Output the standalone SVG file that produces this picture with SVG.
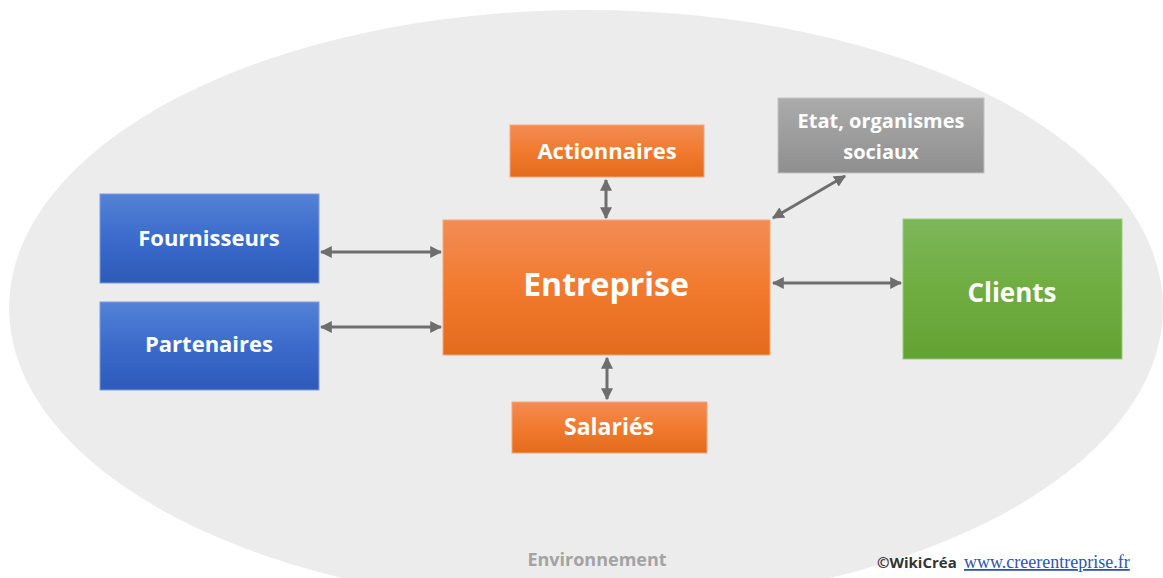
<svg xmlns="http://www.w3.org/2000/svg" width="1163" height="578" viewBox="0 0 1163 578">
<defs>
<linearGradient id="gBlue" x1="0" y1="0" x2="0" y2="1"><stop offset="0" stop-color="#5482d6"/><stop offset="0.5" stop-color="#3b6bcc"/><stop offset="1" stop-color="#2e5ab8"/></linearGradient>
<linearGradient id="gOrange" x1="0" y1="0" x2="0" y2="1"><stop offset="0" stop-color="#f28c55"/><stop offset="0.5" stop-color="#f27a2e"/><stop offset="1" stop-color="#e36b1c"/></linearGradient>
<linearGradient id="gGreen" x1="0" y1="0" x2="0" y2="1"><stop offset="0" stop-color="#7db65a"/><stop offset="0.5" stop-color="#6fad40"/><stop offset="1" stop-color="#62a232"/></linearGradient>
<linearGradient id="gGray" x1="0" y1="0" x2="0" y2="1"><stop offset="0" stop-color="#ababab"/><stop offset="1" stop-color="#8f8f8f"/></linearGradient>
<marker id="ah" viewBox="0 0 10 10" refX="9" refY="5" markerWidth="4" markerHeight="4" orient="auto-start-reverse"><path d="M0,0 L10,5 L0,10 z" fill="#6e6e6e"/></marker>
</defs>
<style>
.box{stroke-width:1}
.blue{fill:url(#gBlue);stroke:#7d9ce0}
.orange{fill:url(#gOrange);stroke:#f5a77a}
.green{fill:url(#gGreen);stroke:#9bcb80}
.gray{fill:url(#gGray);stroke:#c4c4c4}
.lbl{font-family:"Open Sans",Lato,"Liberation Sans",sans-serif;font-weight:bold;fill:#ffffff;text-anchor:middle}
.conn{stroke:#6e6e6e;stroke-width:3;fill:none;marker-start:url(#ah);marker-end:url(#ah)}
</style>
<rect width="1163" height="578" fill="#ffffff"/>
<ellipse id="environnement" cx="586" cy="308" rx="577" ry="298" fill="#ececec"/>
<g id="connectors">
<line class="conn" x1="321" y1="252" x2="441" y2="252"/>
<line class="conn" x1="321" y1="327" x2="441" y2="327"/>
<line class="conn" x1="606" y1="180" x2="606" y2="218"/>
<line class="conn" x1="607" y1="358" x2="607" y2="399"/>
<line class="conn" x1="773" y1="218" x2="845" y2="176"/>
<line class="conn" x1="773" y1="283" x2="901" y2="283"/>
</g>
<g id="fournisseurs"><rect class="box blue" x="100" y="194" width="219" height="89"/><text class="lbl" x="209" y="246" font-size="22">Fournisseurs</text></g>
<g id="partenaires"><rect class="box blue" x="100" y="302" width="219" height="88"/><text class="lbl" x="209" y="352" font-size="22">Partenaires</text></g>
<g id="entreprise"><rect class="box orange" x="443" y="220" width="327" height="135"/><text class="lbl" x="606" y="296" font-size="32">Entreprise</text></g>
<g id="actionnaires"><rect class="box orange" x="510" y="125" width="194" height="52"/><text class="lbl" x="607" y="159" font-size="22">Actionnaires</text></g>
<g id="salaries"><rect class="box orange" x="512" y="402" width="195" height="51"/><text class="lbl" x="609" y="435" font-size="23">Salariés</text></g>
<g id="etat"><rect class="box gray" x="778" y="98" width="206" height="75"/><text class="lbl" x="881" y="128" font-size="20">Etat, organismes</text><text class="lbl" x="881" y="159" font-size="20">sociaux</text></g>
<g id="clients"><rect class="box green" x="903" y="219" width="219" height="140"/><text class="lbl" x="1012" y="302" font-size="26">Clients</text></g>
<text x="597" y="566" font-family="'Open Sans',Lato,'Liberation Sans',sans-serif" font-weight="bold" font-size="18" fill="#a3a3a3" text-anchor="middle">Environnement</text>
<text x="877" y="568" font-size="15" fill="#333333" font-weight="bold" font-family="'Open Sans','Liberation Sans',sans-serif">©WikiCréa</text>
<text x="964" y="568" fill="#2e54b0" text-decoration="underline" font-family="'Liberation Serif',serif" font-size="18">www.creerentreprise.fr</text>
</svg>
